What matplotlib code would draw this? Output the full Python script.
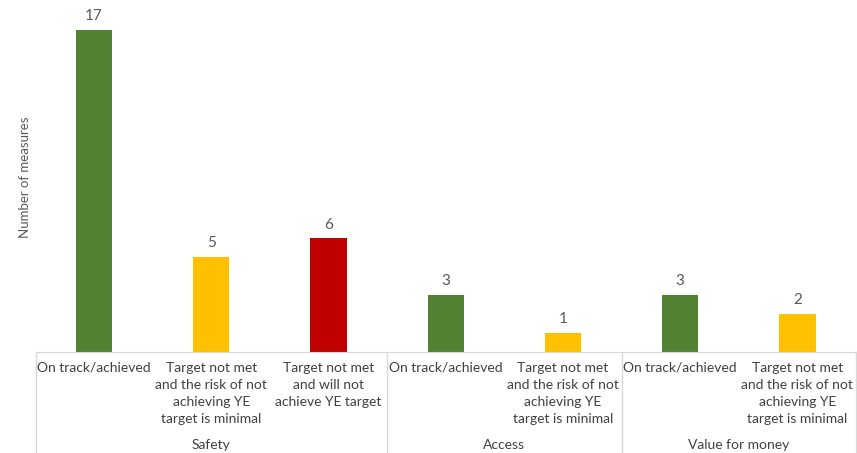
import matplotlib.pyplot as plt
import matplotlib.transforms as mtransforms
import numpy as np

plt.rcParams['font.family'] = ['Lato', 'DejaVu Sans']

# measures per status, grouped by area
groups = ['Safety', 'Access', 'Value for money']
group_sizes = [3, 2, 2]
statuses = ['On track/achieved',
            'Target not met\nand the risk of not\nachieving YE\ntarget is minimal',
            'Target not met\nand will not\nachieve YE target',
            'On track/achieved',
            'Target not met\nand the risk of not\nachieving YE\ntarget is minimal',
            'On track/achieved',
            'Target not met\nand the risk of not\nachieving YE\ntarget is minimal']
counts = [17, 5, 6, 3, 1, 3, 2]
status_colors = ['#548235', '#FFC000', '#C00000', '#548235', '#FFC000', '#548235', '#FFC000']

W, H = 857, 453
fig = plt.figure(figsize=(W / 100, H / 100), dpi=100)
ax = fig.add_axes([35.5 / W, 101 / H, 820.5 / W, 350 / H])

x = np.arange(len(counts))
bars = ax.bar(x, counts, width=0.31, color=status_colors)
ax.set_xlim(-0.5, len(counts) - 0.5)
ax.set_ylim(0, 18.5)

for b, v in zip(bars, counts):
    ax.annotate(str(v), (b.get_x() + b.get_width() / 2, v), xytext=(0, 5),
                textcoords='offset points', ha='center', va='bottom',
                fontsize=11, color='#595959')

for s in ['top', 'right', 'left']:
    ax.spines[s].set_visible(False)
ax.spines['bottom'].set_color('#D9D9D9')
ax.set_xticks([])
ax.set_yticks([])
ax.set_ylabel('Number of measures', fontsize=9.5, color='#595959', labelpad=3)

trans = mtransforms.blended_transform_factory(ax.transData, ax.transAxes)
px = 1 / 350  # one pixel in axes height units

for xi, lab in zip(x, statuses):
    ax.text(xi, -10 * px, lab, transform=trans, ha='center', va='top',
            fontsize=10, color='#404040', linespacing=1.5)

# group separators and group names
edges = np.concatenate([[0], np.cumsum(group_sizes)]) - 0.5
for e in edges:
    ax.plot([e, e], [0, -101 * px], transform=trans, color='#D9D9D9',
            lw=1, clip_on=False)
for g, lo, hi in zip(groups, edges[:-1], edges[1:]):
    ax.text((lo + hi) / 2, -93 * px, g, transform=trans, ha='center',
            va='center', fontsize=10, color='#404040')

fig.savefig('out.png', dpi=100)
